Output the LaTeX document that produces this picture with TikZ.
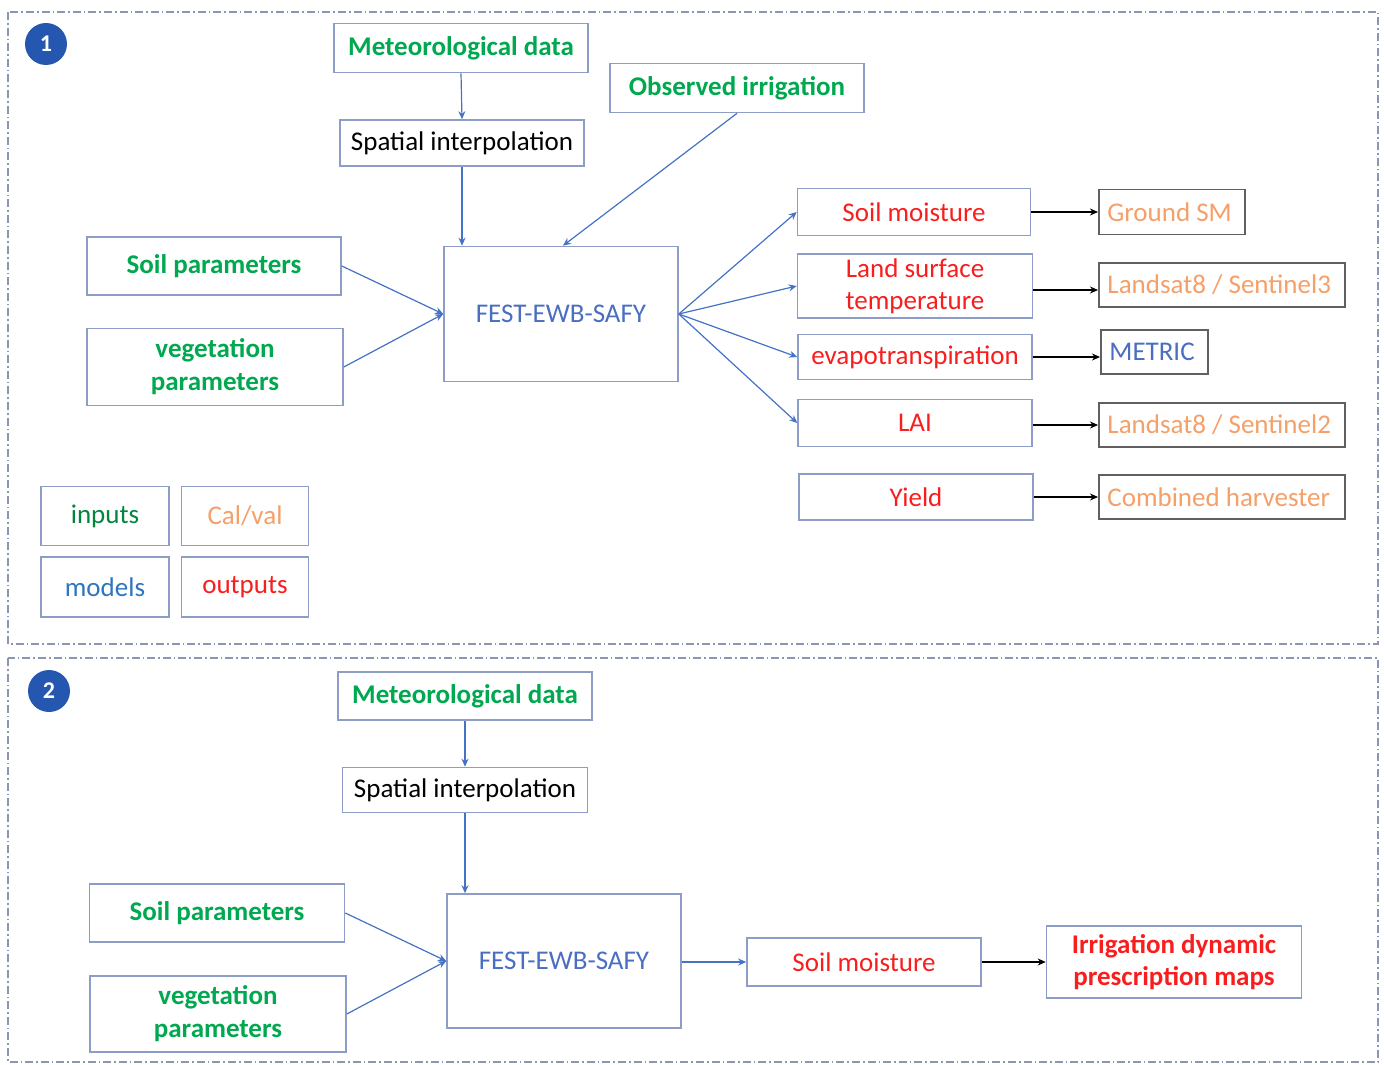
\documentclass[tikz,border=0pt]{standalone}
\usepackage{fontspec}
\setmainfont{Carlito}
\usetikzlibrary{arrows.meta}
\definecolor{bxline}{HTML}{8E9CC8}
\definecolor{cvline}{HTML}{606060}
\definecolor{ingreen}{HTML}{00A84F}
\definecolor{outred}{HTML}{F81E1E}
\definecolor{calorange}{HTML}{F4A068}
\definecolor{modblue}{HTML}{4A6EC0}
\definecolor{legblue}{HTML}{2E75C0}
\definecolor{arrblue}{HTML}{4472C4}
\definecolor{badge}{HTML}{2657B0}
\definecolor{panel}{HTML}{8A96B4}
\tikzset{
  sz/.style 2 args={minimum width=#1*0.5pt, minimum height=#2*0.5pt},
  box/.style={draw=bxline, line width=0.8pt, inner sep=0pt, align=center, fill=white,
    font=\fontsize{13.5}{16.5}\selectfont},
  inp/.style={box, text=ingreen, font=\fontsize{13.5}{16.5}\selectfont\bfseries},
  outp/.style={box, text=outred},
  calbox/.style={box, draw=cvline, anchor=west},
  caltxt/.style={anchor=west, xshift=4.5pt, inner sep=0pt, text=calorange,
    font=\fontsize{13.5}{16.5}\selectfont},
  modl/.style={box, text=modblue},
  plain/.style={box, text=black},
  barr/.style={draw=arrblue, line width=0.6pt, -{Stealth[length=4pt,width=3.5pt]}},
  karr/.style={draw=black, line width=0.6pt, -{Stealth[length=4pt,width=3.5pt]}},
  pnl/.style={draw=panel, line width=0.6pt, dash pattern=on 4pt off 1.5pt on 0.8pt off 1.5pt},
  bdg/.style={circle, fill=badge, text=white, inner sep=0pt, minimum size=21pt,
    font=\fontsize{12}{14}\selectfont\bfseries},
}
\begin{document}
\begin{tikzpicture}[x=0.5pt, y=-0.5pt]
\useasboundingbox (0,0) rectangle (1384,1064);
% panels
\draw[pnl] (8,12) rectangle (1378,644);
\draw[pnl] (8,658) rectangle (1378,1062);
\node[bdg] (b1) at (46,44) {1};
\node[bdg] (b2) at (49,691) {2};

% ---- panel 1 ----
\node[inp, sz={254}{49}] (met1) at (461,48) {Meteorological data};
\node[inp, sz={254}{49}] (obs1) at (737,88) {Observed irrigation};
\node[plain, sz={244}{46}] (spi1) at (462,143) {Spatial interpolation};
\node[modl, sz={234}{135}] (fest1) at (561,314) {FEST-EWB-SAFY};
\node[inp, sz={254}{58}] (soil1) at (214,266) {Soil parameters};
\node[inp, sz={256}{77}] (veg1) at (215,367) {vegetation\\parameters};

\node[outp, sz={233}{47}] (sm1) at (914,212) {Soil moisture};
\node[outp, sz={235}{64}, font=\fontsize{13.5}{16}\selectfont] (lst1) at (915,286) {Land surface\\temperature};
\node[outp, sz={234}{45}] (et1) at (915,357) {evapotranspiration};
\node[outp, sz={234}{47}] (lai1) at (915,423) {LAI};
\node[outp, sz={234}{46}] (yld1) at (916,497) {Yield};

\node[calbox, sz={146}{45}, label={[caltxt]west:Ground SM}] (gsm1) at (1098,212) {};
\node[calbox, sz={246}{44}, label={[caltxt]west:Landsat8 / Sentinel3}] (ls3) at (1098,285) {};
\node[calbox, sz={107}{44}, label={[caltxt, text=modblue]west:METRIC}] (mtr) at (1100,352) {};
\node[calbox, sz={246}{44}, label={[caltxt]west:Landsat8 / Sentinel2}] (ls2) at (1098,425) {};
\node[calbox, sz={246}{44}, label={[caltxt]west:Combined harvester}] (cmb) at (1098,497) {};

% legend
\node[box, sz={128}{59}, text=ingreen!80!black] (lgi) at (105,516) {inputs};
\node[box, sz={127}{59}, text=calorange] (lgc) at (245,516) {Cal/val};
\node[box, sz={128}{60}, text=legblue] (lgm) at (105,587) {models};
\node[box, sz={127}{60}, text=outred] (lgo) at (245,587) {outputs};

% arrows panel 1
\draw[barr] (met1.south) -- (spi1.north);
\draw[barr] (spi1.south) -- (fest1.north -| spi1.south);
\draw[barr] (obs1.south) -- ([xshift=1pt]fest1.north);
\draw[barr] (soil1.east) -- (fest1.west);
\draw[barr] (veg1.east) -- (fest1.west);
\draw[barr] (fest1.east) -- (sm1.west);
\draw[barr] (fest1.east) -- (lst1.west);
\draw[barr] (fest1.east) -- (et1.west);
\draw[barr] (fest1.east) -- (lai1.west);

\coordinate (lsty) at (0,290);
\draw[karr] (sm1.east) -- (gsm1.west |- sm1.east);
\draw[karr] (lst1.east |- lsty) -- (ls3.west |- lsty);
\draw[karr] (et1.east) -- (mtr.west |- et1.east);
\draw[karr] (lai1.east |- ls2.west) -- (ls2.west);
\draw[karr] (yld1.east) -- (cmb.west |- yld1.east);

% ---- panel 2 ----
\node[inp, sz={254}{48}] (met2) at (465,696) {Meteorological data};
\node[plain, sz={245}{45}] (spi2) at (465,790) {Spatial interpolation};
\node[modl, sz={234}{134}] (fest2) at (564,961) {FEST-EWB-SAFY};
\node[inp, sz={255}{58}] (soil2) at (217,913) {Soil parameters};
\node[inp, sz={256}{76}] (veg2) at (218,1014) {vegetation\\parameters};
\node[outp, sz={234}{48}] (sm2) at (864,962) {Soil moisture};
\node[box, sz={255}{72}, text=outred, font=\fontsize{13.5}{16}\selectfont\bfseries] (idp) at (1174,962) {Irrigation dynamic\\prescription maps};

\draw[barr] (met2.south) -- (spi2.north);
\draw[barr] (spi2.south) -- (fest2.north -| spi2.south);
\draw[barr] (soil2.east) -- (fest2.west);
\draw[barr] (veg2.east) -- (fest2.west);
\draw[barr] (fest2.east |- sm2.west) -- (sm2.west);
\draw[karr] (sm2.east) -- (idp.west |- sm2.east);
\end{tikzpicture}
\end{document}
